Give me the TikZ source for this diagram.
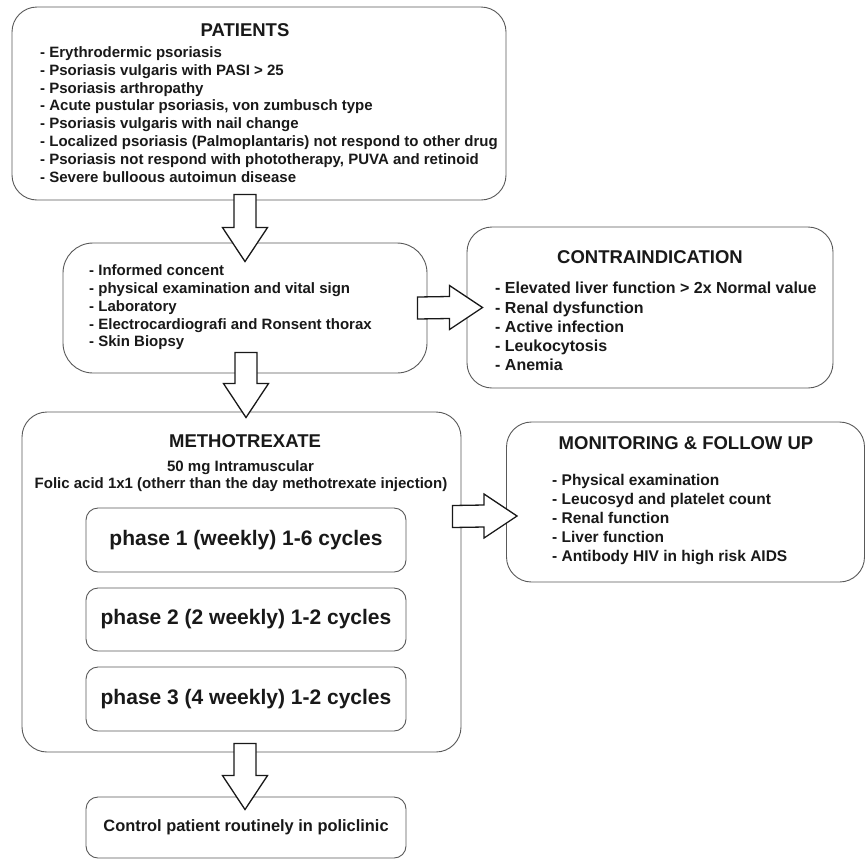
\documentclass[tikz,border=0pt]{standalone}
\usepackage{fontspec}
\setmainfont{Liberation Sans}
\usetikzlibrary{calc}
\newcommand\dblock[2]{\draw[blk] ($(#1)+(-11,0)$) -- ($(#1)+(11,0)$) -- ($(#2)+(11,-34)$) -- ($(#2)+(22.5,-34)$) -- (#2) -- ($(#2)+(-22.5,-34)$) -- ($(#2)+(-11,-34)$) -- cycle;}
\newcommand\rblock[2]{\draw[blk] ($(#1)+(0,-11)$) -- ($(#2)+(-33,-11)$) -- ($(#2)+(-33,-22)$) -- (#2) -- ($(#2)+(-33,22)$) -- ($(#2)+(-33,11)$) -- ($(#1)+(0,11)$) -- cycle;}
\begin{document}
\begin{tikzpicture}[x=1pt,y=-1pt,
  box/.style={draw=black!65, line width=0.9pt, rounded corners=#1, inner sep=0pt},
  box/.default=25,
  blk/.style={draw=black!90, line width=1.3pt, fill=white, line join=miter},
  ttl/.style={inner sep=0pt, text=black!90, font=\fontsize{18.5}{22}\selectfont\bfseries},
  lst/.style={inner sep=0pt, anchor=west, align=left, text=black!90},
  ph/.style={box=12, minimum width=320, text=black!90, font=\fontsize{21}{25}\selectfont\bfseries}]
\useasboundingbox[fill=white] (0,0) rectangle (866,860);
% boxes
\node[box=25, minimum width=494, minimum height=193] (patients) at (259,103.5) {};
\node[box=30, minimum width=364, minimum height=130] (prep) at (245,308) {};
\node[box=25, minimum width=366, minimum height=161] (contra) at (650,307.5) {};
\node[box=25, minimum width=439, minimum height=340] (metho) at (241.5,582) {};
\node[box=25, minimum width=358, minimum height=160] (monitor) at (685.5,502) {};
\node[ph, minimum height=64] (ph1) at (246,540) {phase 1 (weekly) 1-6 cycles};
\node[ph, minimum height=63] (ph2) at (246,619.5) {phase 2 (2 weekly) 1-2 cycles};
\node[ph, minimum height=64] (ph3) at (246,699) {phase 3 (4 weekly) 1-2 cycles};
\node[box=12, minimum width=320, minimum height=61, text=black!90, font=\fontsize{16.4}{20}\selectfont\bfseries] (control) at (246,827.5) {Control patient routinely in policlinic};
% texts
\node[ttl] (ptitle) at (245,30) {PATIENTS};
\node[lst, font=\fontsize{15}{17.9}\selectfont\bfseries] (plist) at (40,114.5) {- Erythrodermic psoriasis\\- Psoriasis vulgaris with PASI > 25\\- Psoriasis arthropathy\\- Acute pustular psoriasis, von zumbusch type\\- Psoriasis vulgaris with nail change\\- Localized psoriasis (Palmoplantaris) not respond to other drug\\- Psoriasis not respond with phototherapy, PUVA and retinoid\\- Severe bulloous autoimun disease};
\node[lst, font=\fontsize{15}{17.8}\selectfont\bfseries] (preplist) at (89,307.5) {- Informed concent\\- physical examination and vital sign\\- Laboratory\\- Electrocardiografi and Ronsent thorax\\- Skin Biopsy};
\node[ttl] (ctitle) at (650,257) {CONTRAINDICATION};
\node[lst, font=\fontsize{16}{19.2}\selectfont\bfseries] (clist) at (495,326.5) {- Elevated liver function > 2x Normal value\\- Renal dysfunction\\- Active infection\\- Leukocytosis\\- Anemia};
\node[ttl] (mtitle) at (245,441) {METHOTREXATE};
\node[inner sep=0pt, text=black!90, font=\fontsize{15}{17}\selectfont\bfseries] (mdose) at (240.5,468) {50 mg Intramuscular};
\node[inner sep=0pt, text=black!90, font=\fontsize{15}{17}\selectfont\bfseries] (mfolic) at (241,485) {Folic acid 1x1 (otherr than the day methotrexate injection)};
\node[ttl] (montitle) at (686,443) {MONITORING \& FOLLOW UP};
\node[lst, font=\fontsize{15.5}{19}\selectfont\bfseries] (monlist) at (552,520) {- Physical examination\\- Leucosyd and platelet count\\- Renal function\\- Liver function\\- Antibody HIV in high risk AIDS};
% block arrows
\coordinate (a1s) at ($(patients.south)+(-14,-6)$);
\coordinate (a1e) at ($(prep.north)+(0,19)$);
\coordinate (a2s) at ($(prep.south)+(1,-21)$);
\coordinate (a2e) at ($(metho.north)+(4.5,6)$);
\coordinate (a4s) at ($(metho.south)+(3.5,-9)$);
\coordinate (a4e) at ($(control.north)+(-1,13)$);
\coordinate (a3s) at ($(prep.east)+(-10,0)$);
\coordinate (a3e) at ($(contra.west)+(16,0)$);
\coordinate (a5s) at ($(metho.east)+(-9,-65.5)$);
\coordinate (a5e) at ($(monitor.west)+(11,14)$);
\dblock{a1s}{a1e}
\dblock{a2s}{a2e}
\dblock{a4s}{a4e}
\rblock{a3s}{a3e}
\rblock{a5s}{a5e}
\end{tikzpicture}
\end{document}
